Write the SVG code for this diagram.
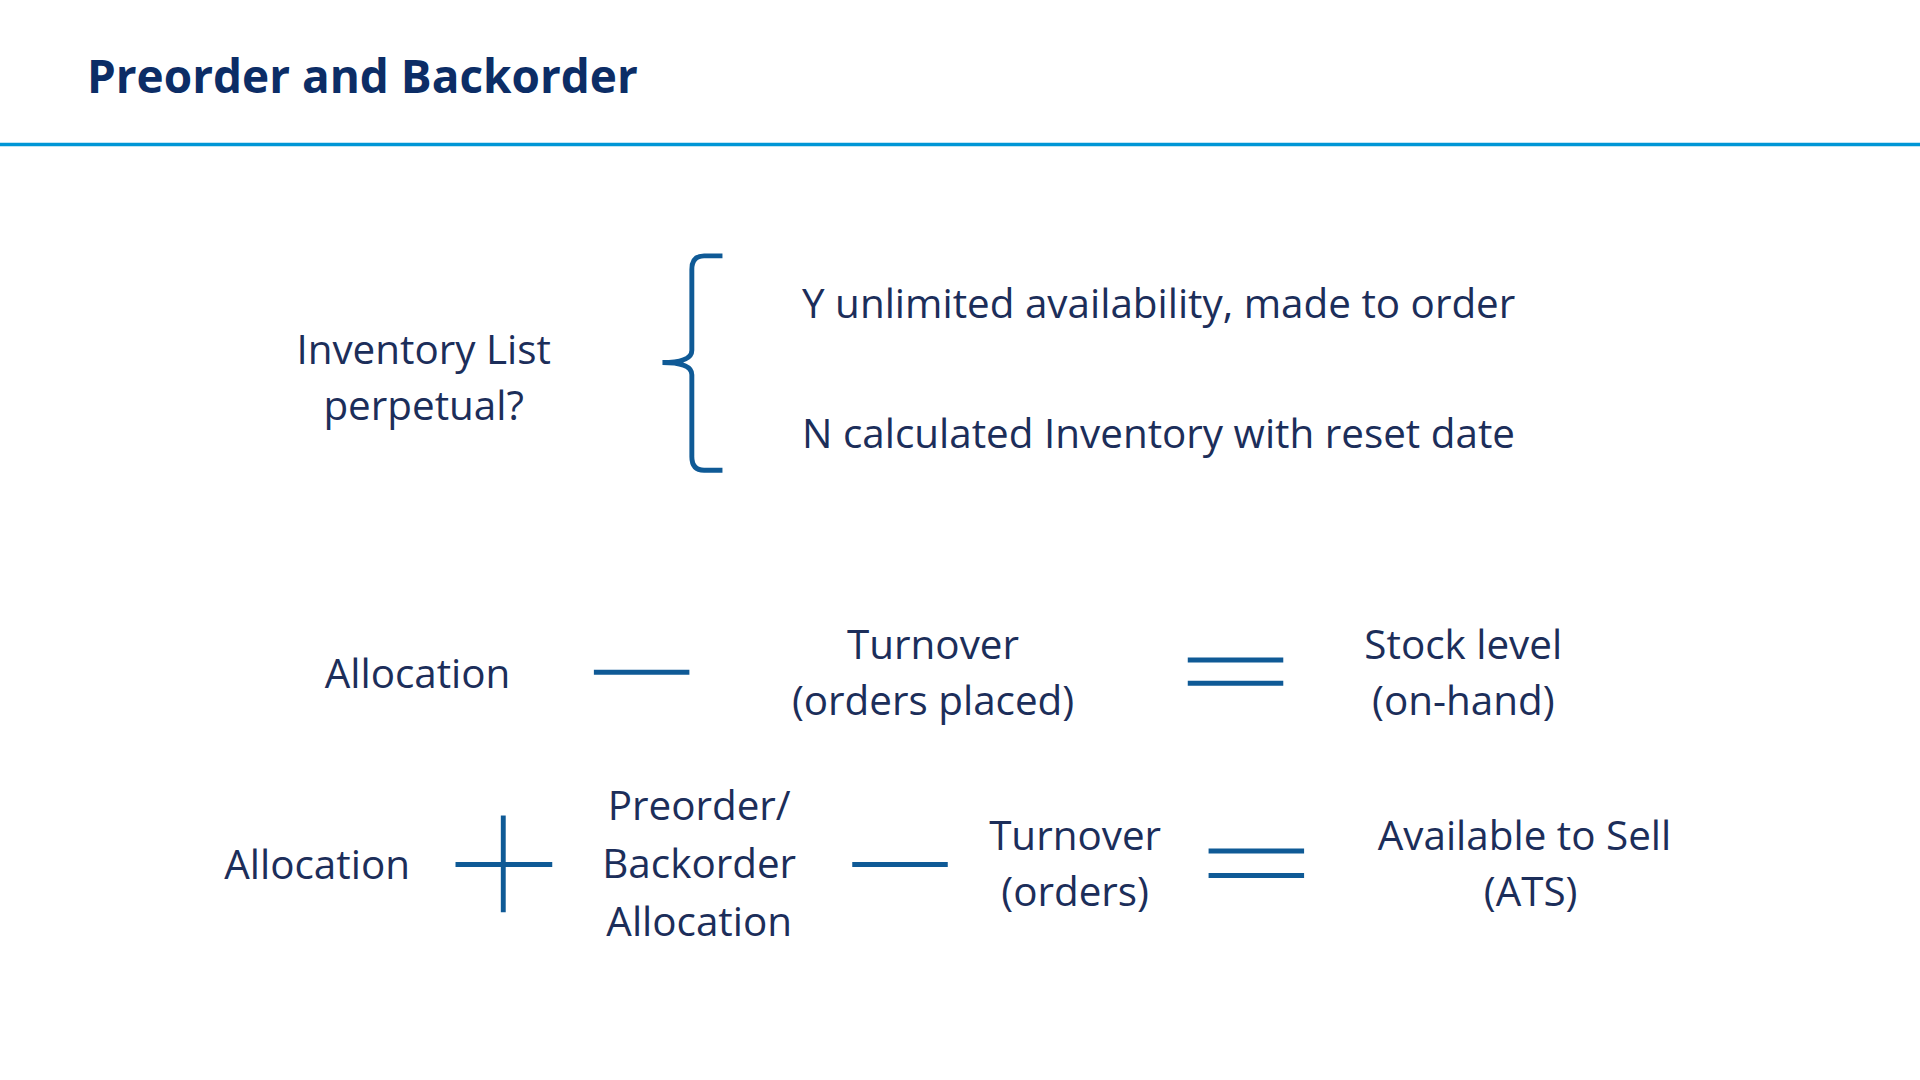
<svg xmlns="http://www.w3.org/2000/svg" width="1920" height="1080" viewBox="0 0 1920 1080">
<style>
text{font-family:"Open Sans","Noto Sans",sans-serif;fill:#1c2e5a;font-size:33px}
.c{text-anchor:middle}
.op{stroke:#0f5a96;stroke-width:4;fill:none}
</style>
<rect width="1920" height="1080" fill="#fff"/>
<g transform="scale(1.2245)">
<text x="71" y="76" style="font-weight:bold;font-size:37.5px;fill:#0c2d66">Preorder and Backorder</text>
<line x1="0" y1="118" x2="1568" y2="118" stroke="#0096d6" stroke-width="3"/>
<g id="inventory"><text class="c" x="346" y="297">Inventory List</text><text class="c" x="346" y="343">perpetual?</text></g>
<g id="connectors">
<path class="op" d="M590,209 H575 Q565,209 565,220 V286 Q565,296 541,296 Q565,296 565,306 V373 Q565,384 575,384 H590"/>
<line class="op" x1="485" y1="549" x2="563" y2="549"/>
<line class="op" x1="970" y1="539" x2="1048" y2="539"/><line class="op" x1="970" y1="558" x2="1048" y2="558"/>
<line class="op" x1="372" y1="706" x2="451" y2="706"/><line class="op" x1="411" y1="666" x2="411" y2="745"/>
<line class="op" x1="696" y1="706" x2="774" y2="706"/>
<line class="op" x1="987" y1="695" x2="1065" y2="695"/><line class="op" x1="987" y1="715" x2="1065" y2="715"/>
</g>
<g id="y"><text x="655" y="260">Y unlimited availability, made to order</text></g>
<g id="n"><text x="655" y="366">N calculated Inventory with reset date</text></g>
<g id="alloc1"><text class="c" x="341" y="562">Allocation</text></g>
<g id="turn1"><text class="c" x="762" y="538">Turnover</text><text class="c" x="762" y="584">(orders placed)</text></g>
<g id="stock"><text class="c" x="1195" y="538">Stock level</text><text class="c" x="1195" y="584">(on-hand)</text></g>
<g id="alloc2"><text class="c" x="259" y="718">Allocation</text></g>
<g id="pre"><text class="c" x="571" y="670">Preorder/</text><text class="c" x="571" y="717">Backorder</text><text class="c" x="571" y="764">Allocation</text></g>
<g id="turn2"><text class="c" x="878" y="694">Turnover</text><text class="c" x="878" y="740">(orders)</text></g>
<g id="ats"><text class="c" x="1245" y="694">Available to Sell</text><text class="c" x="1250" y="740">(ATS)</text></g>
</g>
</svg>
